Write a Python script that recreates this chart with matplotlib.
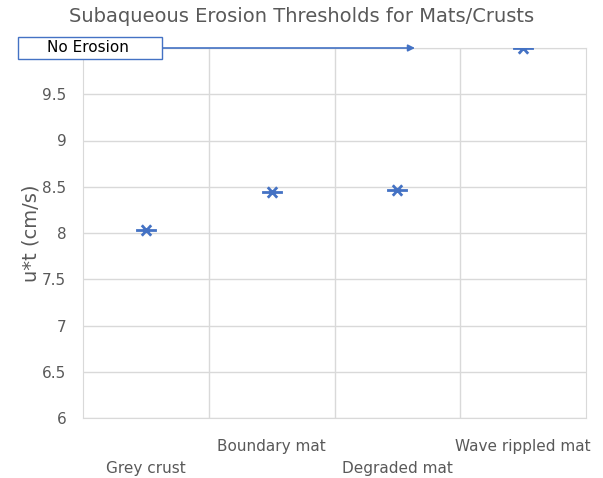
import matplotlib.pyplot as plt
from matplotlib.patches import Rectangle
from matplotlib.path import Path

# Data
categories = ['Grey crust', 'Boundary mat', 'Degraded mat', 'Wave rippled mat']
u_star_t = [8.03, 8.44, 8.46, 10.0]
y_ticks = [6, 6.5, 7, 7.5, 8, 8.5, 9, 9.5, 10]
y_tick_labels = ['6', '6.5', '7', '7.5', '8', '8.5', '9', '9.5', '']  # "10" hidden behind callout

blue = '#4472C4'
grey_text = '#595959'
grid_col = '#D9D9D9'

# flattened asterisk marker (horizontal bar + x), like the Excel star
star = Path([(-1, 0), (1, 0), (-0.45, -0.5), (0.45, 0.5), (-0.45, 0.5), (0.45, -0.5)],
            [Path.MOVETO, Path.LINETO, Path.MOVETO, Path.LINETO, Path.MOVETO, Path.LINETO])

fig = plt.figure(figsize=(6.03, 4.78), dpi=100)
ax = fig.add_axes([83 / 603, 1 - 418 / 478, (586 - 83) / 603, (418 - 48) / 478])

x = list(range(len(categories)))
ax.plot(x, u_star_t, linestyle='none', marker=star, markersize=15,
        markeredgewidth=2, color=blue, zorder=3)

ax.set_xlim(-0.5, len(categories) - 0.5)
ax.set_ylim(6, 10)
ax.set_yticks(y_ticks)
ax.set_yticklabels(y_tick_labels)

# staggered category labels
ax.set_xticks(x)
labels = [c if i % 2 else '\n' + c for i, c in enumerate(categories)]
ax.set_xticklabels(labels, linespacing=1.6, fontsize=11)
ax.set_xticks([i + 0.5 for i in x[:-1]], minor=True)

ax.tick_params(axis='both', which='both', length=0, colors=grey_text)
ax.tick_params(axis='y', pad=12, labelsize=11)
ax.tick_params(axis='x', pad=15)
ax.grid(True, axis='y', color=grid_col, linewidth=1)
ax.grid(True, axis='x', which='minor', color=grid_col, linewidth=1)
for s in ax.spines.values():
    s.set_color(grid_col)

ax.set_ylabel('u*t (cm/s)', fontsize=14, color=grey_text)
ax.yaxis.set_label_coords(-0.085, 0.5)
fig.text(0.5, 1 - 16 / 478, 'Subaqueous Erosion Thresholds for Mats/Crusts',
         ha='center', va='center', fontsize=14, color=grey_text)

# "No Erosion" callout
fig.patches.append(Rectangle((18 / 603, 1 - 59 / 478), 144 / 603, 22 / 478,
                             transform=fig.transFigure, facecolor='white',
                             edgecolor=blue, linewidth=1, zorder=5))
fig.text(47 / 603, 1 - 48 / 478, 'No Erosion', ha='left', va='center',
         fontsize=11, color='black', zorder=6)
ax.annotate('', xy=(415 / 603, 1 - 48 / 478), xytext=(162 / 603, 1 - 48 / 478),
            xycoords='figure fraction', textcoords='figure fraction',
            arrowprops=dict(arrowstyle='-|>', color=blue, lw=1.2,
                            mutation_scale=10, shrinkA=0, shrinkB=0))

fig.savefig('out.png', dpi=100)
